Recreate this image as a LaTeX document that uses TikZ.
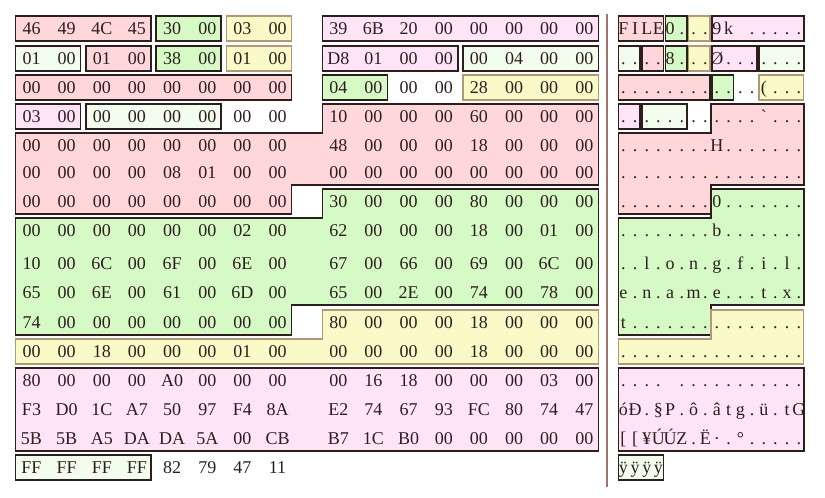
\documentclass[tikz,border=0pt]{standalone}
\usepackage{fontspec}
\setmainfont{Liberation Serif}
\usepackage{tikz}
\usepackage{xcolor}

\definecolor{ink}{RGB}{45,30,30}
\definecolor{rim}{RGB}{178,152,118}
\definecolor{rulebrown}{RGB}{160,118,108}
\definecolor{salmon}{RGB}{255,214,218}
\definecolor{lilac}{RGB}{255,228,248}
\definecolor{mint}{RGB}{214,250,198}
\definecolor{lemon}{RGB}{250,250,200}
\definecolor{frost}{RGB}{242,253,238}

\newcommand\field[4]{%
  \draw[#4] ({hx(#2)-16},{ry(#1)-12}) rectangle ({hx(#3)+14},{ry(#1)+13});
  \draw[#4] ({ax(#2)+1},{ry(#1)-12}) rectangle ({ax(#3+1)-1},{ry(#1)+13});}
\newcommand\stepped[7]{%
  \draw[#1] (#6,{ry(#2)-12}) -- (#7,{ry(#2)-12}) -- (#7,{ry(#3-1)+13}) -- (#5,{ry(#3-1)+13})
    -- (#5,{ry(#3)+13}) -- (#4,{ry(#3)+13}) -- (#4,{ry(#2+1)-12}) -- (#6,{ry(#2+1)-12}) -- cycle;}
\newcommand\hexrow[3]{%
  \foreach \v [count=\c from 0] in {#2}
    \node[byte] (h#1-\c) at ({hx(\c)},{ry(#1)+6}) {\v};
  \foreach \v [count=\c from 0] in {#3}
    \node[byte] (a#1-\c) at ({ax(\c)+5.85},{ry(#1)+6}) {\v};}

\begin{document}
\begin{tikzpicture}[x=1pt,y=-1pt,
  declare function={hx(\c)=31.5+35.15*\c+25.6*(\c>7); ax(\c)=617.5+11.7*\c;
    ry(\r)={28,58,87,116,145,172,201,230,263,292,322,351,380,409,438,467}[int(\r)];},
  byte/.style={anchor=base,inner sep=0pt,text=ink,font=\fontsize{18}{20}\selectfont},
  box/.style={draw=ink,line width=1.6pt},
  redbox/.style={box,fill=salmon},
  lilacbox/.style={box,fill=lilac},
  mintbox/.style={box,fill=mint},
  frostbox/.style={box,fill=frost},
  lemonbox/.style={draw=rim,line width=1.4pt,fill=lemon}
]
\useasboundingbox (0,0) rectangle (825,498);

\field{0}{0}{3}{redbox}
\field{0}{4}{5}{mintbox}
\field{0}{6}{7}{lemonbox}
\field{0}{8}{15}{lilacbox}
\field{1}{0}{1}{frostbox}
\field{1}{2}{3}{redbox}
\field{1}{4}{5}{mintbox}
\field{1}{6}{7}{lemonbox}
\field{1}{8}{11}{lilacbox}
\field{1}{12}{15}{frostbox}
\field{2}{0}{7}{redbox}
\field{2}{8}{9}{mintbox}
\field{2}{12}{15}{lemonbox}
\field{3}{0}{1}{lilacbox}
\field{3}{2}{5}{frostbox}
\field{15}{0}{3}{frostbox}

\stepped{redbox}{3}{6}{{hx(0)-16}}{{hx(7)+14}}{{hx(8)-16}}{{hx(15)+14}}
\stepped{redbox}{3}{6}{{ax(0)+1}}{{ax(8)}}{{ax(8)}}{{ax(16)-1}}
\stepped{mintbox}{6}{10}{{hx(0)-16}}{{hx(7)+14}}{{hx(8)-16}}{{hx(15)+14}}
\stepped{mintbox}{6}{10}{{ax(0)+1}}{{ax(8)}}{{ax(8)}}{{ax(16)-1}}
\stepped{lemonbox}{10}{11}{{hx(0)-16}}{{hx(15)+14}}{{hx(8)-16}}{{hx(15)+14}}
\stepped{lemonbox}{10}{11}{{ax(0)+1}}{{ax(16)-1}}{{ax(8)}}{{ax(16)-1}}
\draw[lilacbox] ({hx(0)-16},{ry(12)-12}) rectangle ({hx(15)+14},{ry(14)+13});
\draw[lilacbox] ({ax(0)+1},{ry(12)-12}) rectangle ({ax(16)-1},{ry(14)+13});

\draw[rulebrown,line width=2pt] (607,14) -- (607,487);

\hexrow{0}{46,49,4C,45,30,00,03,00,39,6B,20,00,00,00,00,00}{F,I,L,E,0,.,.,.,9,k,{},.,.,.,.,.}
\hexrow{1}{01,00,01,00,38,00,01,00,D8,01,00,00,00,04,00,00}{.,.,.,.,8,.,.,.,Ø,.,.,.,.,.,.,.}
\hexrow{2}{00,00,00,00,00,00,00,00,04,00,00,00,28,00,00,00}{.,.,.,.,.,.,.,.,.,.,.,.,{(},.,.,.}
\hexrow{3}{03,00,00,00,00,00,00,00,10,00,00,00,60,00,00,00}{.,.,.,.,.,.,.,.,.,.,.,.,\textasciigrave,.,.,.}
\hexrow{4}{00,00,00,00,00,00,00,00,48,00,00,00,18,00,00,00}{.,.,.,.,.,.,.,.,H,.,.,.,.,.,.,.}
\hexrow{5}{00,00,00,00,08,01,00,00,00,00,00,00,00,00,00,00}{.,.,.,.,.,.,.,.,.,.,.,.,.,.,.,.}
\hexrow{6}{00,00,00,00,00,00,00,00,30,00,00,00,80,00,00,00}{.,.,.,.,.,.,.,.,0,.,.,.,.,.,.,.}
\hexrow{7}{00,00,00,00,00,00,02,00,62,00,00,00,18,00,01,00}{.,.,.,.,.,.,.,.,b,.,.,.,.,.,.,.}
\hexrow{8}{10,00,6C,00,6F,00,6E,00,67,00,66,00,69,00,6C,00}{.,.,l,.,o,.,n,.,g,.,f,.,i,.,l,.}
\hexrow{9}{65,00,6E,00,61,00,6D,00,65,00,2E,00,74,00,78,00}{e,.,n,.,a,.,m,.,e,.,.,.,t,.,x,.}
\hexrow{10}{74,00,00,00,00,00,00,00,80,00,00,00,18,00,00,00}{t,.,.,.,.,.,.,.,.,.,.,.,.,.,.,.}
\hexrow{11}{00,00,18,00,00,00,01,00,00,00,00,00,18,00,00,00}{.,.,.,.,.,.,.,.,.,.,.,.,.,.,.,.}
\hexrow{12}{80,00,00,00,A0,00,00,00,00,16,18,00,00,00,03,00}{.,.,.,.,{},.,.,.,.,.,.,.,.,.,.,.}
\hexrow{13}{F3,D0,1C,A7,50,97,F4,8A,E2,74,67,93,FC,80,74,47}{ó,Ð,.,§,P,.,ô,.,â,t,g,.,ü,.,t,G}
\hexrow{14}{5B,5B,A5,DA,DA,5A,00,CB,B7,1C,B0,00,00,00,00,00}{{[},{[},¥,Ú,Ú,Z,.,Ë,·,.,°,.,.,.,.,.}
\hexrow{15}{FF,FF,FF,FF,82,79,47,11}{ÿ,ÿ,ÿ,ÿ}
\end{tikzpicture}
\end{document}
